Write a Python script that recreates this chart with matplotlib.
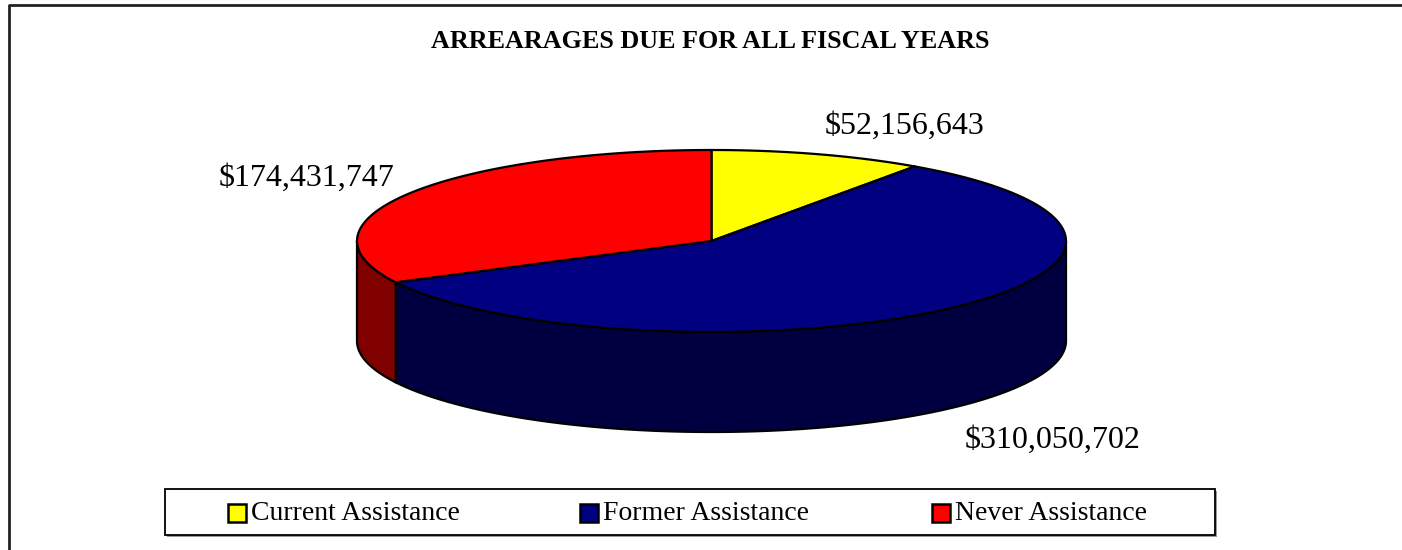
import numpy as np
import matplotlib
matplotlib.use("Agg")
import matplotlib.pyplot as plt
from matplotlib.patches import Polygon, Rectangle

title = "ARREARAGES DUE FOR ALL FISCAL YEARS"
categories = ["Current Assistance", "Former Assistance", "Never Assistance"]
values = [52156643, 310050702, 174431747]
top_colors = ["#FFFF00", "#000080", "#FF0000"]
side_colors = ["#808000", "#000040", "#800000"]

plt.rcParams['font.family'] = ['Liberation Serif', 'DejaVu Serif']

W, H = 1402, 550
fig = plt.figure(figsize=(W / 100, H / 100), dpi=100)
ax = fig.add_axes([0, 0, 1, 1])
ax.set_xlim(0, W)
ax.set_ylim(H, 0)
ax.axis('off')

# outer frame (top and left edges only visible)
ax.plot([9, 9, W], [H, 5, 5], color='#222222', lw=2, solid_capstyle='butt')

# pie geometry in pixels
cx, cy, rx, ry, depth = 711.5, 241, 354.5, 91, 100


def pt(t, dz=0):
    r = np.radians(t)
    return cx + rx * np.sin(r), cy - ry * np.cos(r) + dz


def arc(t1, t2, dz=0, n=120):
    ts = np.linspace(t1, t2, n)
    return [pt(t, dz) for t in ts]


total = sum(values)
angles = np.cumsum([0] + [v / total * 360 for v in values])

# front sides
for i in range(len(values)):
    a1, a2 = max(angles[i], 90), min(angles[i + 1], 270)
    if a2 <= a1:
        continue
    verts = arc(a1, a2) + arc(a2, a1, depth)
    ax.add_patch(Polygon(verts, closed=True, fc=side_colors[i], ec='black', lw=1.6, joinstyle='round'))

# top faces
for i in range(len(values)):
    verts = [(cx, cy)] + arc(angles[i], angles[i + 1])
    ax.add_patch(Polygon(verts, closed=True, fc=top_colors[i], ec='black', lw=1.6, joinstyle='round'))

# data labels
label_pos = [(905, 126), (1053, 440), (307, 178)]
for v, (x, y) in zip(values, label_pos):
    ax.text(x, y, f"${v:,}", fontsize=23, ha='center', va='center', color='black')

ax.text(710, 41, title, fontsize=18.8, fontweight='bold', ha='center', va='center')

# legend
ax.add_patch(Rectangle((167, 491), 1050, 46, fc='#999999', ec='none'))
ax.add_patch(Rectangle((165, 489), 1050, 46, fc='white', ec='black', lw=1.3))
sq_x = [228, 580, 932]
for x, c, name in zip(sq_x, top_colors, categories):
    ax.add_patch(Rectangle((x, 504), 18, 18, fc=c, ec='black', lw=1.8))
    ax.text(x + 23, 514, name, fontsize=20, ha='left', va='center')

fig.savefig("out.png", dpi=100)
